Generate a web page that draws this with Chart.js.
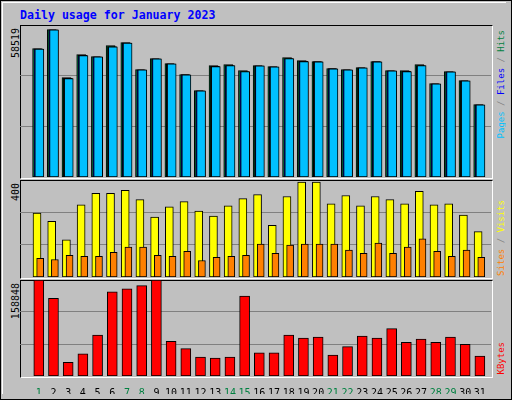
<!DOCTYPE html>
<html><head><meta charset="utf-8">
<script src="https://cdn.jsdelivr.net/npm/chart.js@4/dist/chart.umd.min.js"></script>
<style>
body{margin:0;background:#fff;}
#frame{position:absolute;left:0;top:0;width:510px;height:398px;border:1px solid #000;background:#C0C0C0;font-family:"DejaVu Sans Mono",monospace;}
#frame:after{content:"";position:absolute;left:1px;top:1px;right:5px;bottom:5px;border-top:1px solid #fff;border-left:1px solid #fff;}
.panel{position:absolute;border-top:1px solid #000;border-left:1px solid #000;border-right:1px solid #fff;border-bottom:1px solid #fff;}
canvas{position:absolute;}
.vl{position:absolute;writing-mode:vertical-rl;transform:rotate(180deg);font-size:10px;white-space:nowrap;}
#title{position:absolute;left:19px;top:7px;color:#0000FF;font-weight:bold;font-size:11.6px;}
</style></head><body>
<div id="frame">
<div id="title">Daily usage for January 2023</div>
<div class="panel" style="left:19px;top:24px;width:471px;height:152px"></div>
<div class="panel" style="left:19px;top:179px;width:471px;height:97px"></div>
<div class="panel" style="left:19px;top:279px;width:471px;height:96px"></div>
<div class="vl" style="left:9px;top:27px;color:#000">58519</div>
<div class="vl" style="left:9px;top:182px;color:#000">400</div>
<div class="vl" style="left:9px;top:282px;color:#000">158848</div>
<div class="vl" style="left:495px;top:29px;font-size:9px"><span style="color:#00C0FF">Pages</span><span style="color:#808080"> / </span><span style="color:#0000FF">Files</span><span style="color:#808080"> / </span><span style="color:#008040">Hits</span></div>
<div class="vl" style="left:495px;top:199px;font-size:9px"><span style="color:#FF8000">Sites</span><span style="color:#808080"> / </span><span style="color:#FFFF00">Visits</span></div>
<div class="vl" style="left:495px;top:341px;font-size:9px;color:#FF0000">KBytes</div>
</div>
<canvas id="c1" style="left:20px;top:25px" width="471" height="152"></canvas>
<canvas id="c2" style="left:20px;top:180px" width="471" height="97"></canvas>
<canvas id="c3" style="left:20px;top:280px" width="471" height="114"></canvas>
<script>
const days=[1,2,3,4,5,6,7,8,9,10,11,12,13,14,15,16,17,18,19,20,21,22,23,24,25,26,27,28,29,30,31];
const weekend=[1,7,8,14,15,21,22,28,29];
const hits=[49408,56720,38240,47100,46330,50560,51720,41320,45560,43630,39400,33240,42860,43250,40940,42860,42480,45950,44790,44400,41710,41320,42090,44400,40940,40940,43250,35930,40550,37090,27850];
const files=[49300,56700,38000,46800,46300,50200,51700,41300,45500,43600,39400,33200,42600,42900,40600,42800,42400,45600,44500,44400,41700,41300,42000,44400,40900,40700,42900,35900,40500,37000,27800];
const pages=[49280,56650,37850,46720,46250,50120,51600,41250,45500,43580,39350,33200,42480,42860,40550,42800,42400,45560,44400,44350,41650,41300,42050,44350,40900,40550,42860,35900,40500,37000,27800];
const visits=[264,230,153,298,345,345,357,319,247,289,311,272,251,294,323,340,213,332,391,391,302,336,294,332,319,302,353,298,302,255,187];
const sites=[77,72,89,85,85,102,123,123,89,85,106,68,81,85,89,136,98,132,136,136,136,111,98,140,98,123,157,106,85,111,81];
const kbytes=[158848,128700,22600,36500,67800,139100,144400,149600,158848,57400,45200,31300,29600,31300,132200,38300,38300,67800,62600,64400,34800,48700,66100,62600,78300,55700,60900,55700,64400,52200,33000];
const maxTop=58519,maxMid=400,maxBot=158848;

function ds(vals,off,color,w){return {data:days.map((d,i)=>({x:d+off,y:vals[i]})),backgroundColor:color,borderColor:'#000',borderWidth:1,borderSkipped:false,barThickness:w,grouped:false};}
function opts(max,showX){
  return {responsive:false,animation:false,events:[],
    layout:{padding:0},
    plugins:{legend:{display:false},tooltip:{enabled:false}},
    scales:{
      x:{type:'linear',min:0.5,max:31.5,display:showX,grid:{display:false},border:{display:false},
        afterBuildTicks:s=>{s.ticks=days.map(d=>({value:d+0.26}));},
        ticks:{autoSkip:false,maxRotation:0,padding:3,font:{family:'DejaVu Sans Mono',size:10},
          callback:v=>String(Math.round(v-0.26)),
          color:c=>weekend.includes(Math.round(c.tick.value-0.26))?'#008040':'#000'},
        afterFit:s=>{if(showX)s.height=18;}},
      y:{min:0,max:max,grid:{color:'#808080',drawTicks:false},border:{display:false},
        afterBuildTicks:s=>{s.ticks=[{value:max/3},{value:2*max/3}];},
        ticks:{display:false},afterFit:s=>{s.width=0;}}
    }};
}
new Chart(document.getElementById('c1'),{type:'bar',data:{datasets:[
  ds(pages,0.30,'#00C0FF',9),ds(files,0.24,'#0000FF',9),ds(hits,0.145,'#008040',9)]},options:opts(maxTop,false)});
new Chart(document.getElementById('c2'),{type:'bar',data:{datasets:[
  ds(sites,0.355,'#FF8000',7),ds(visits,0.14,'#FFFF00',8)]},options:opts(maxMid,false)});
new Chart(document.getElementById('c3'),{type:'bar',data:{datasets:[
  ds(kbytes,0.26,'#FF0000',10)]},options:opts(maxBot,true)});
</script>
</body></html>
